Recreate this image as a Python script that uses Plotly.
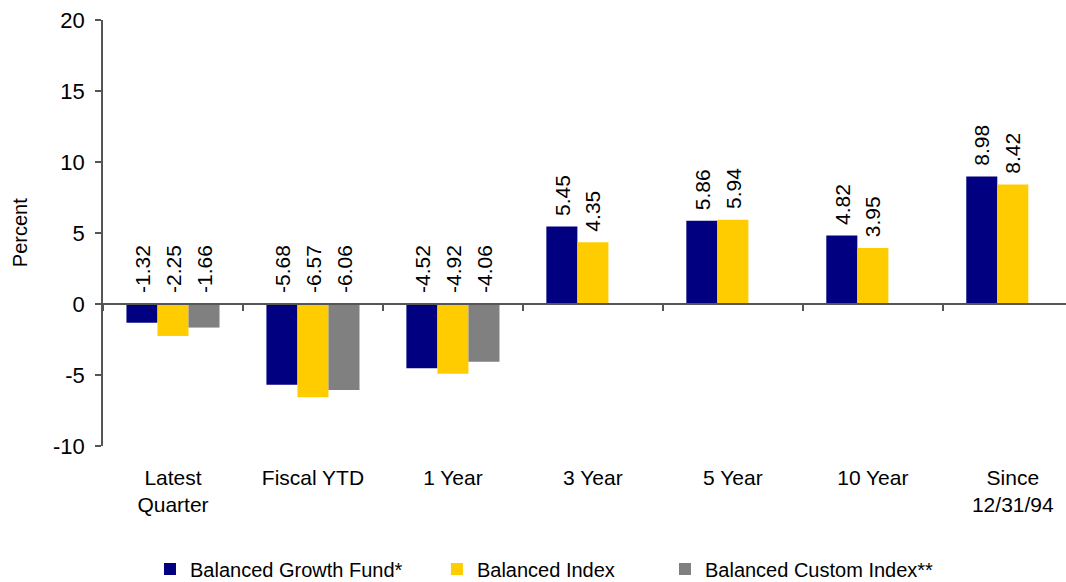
import plotly.graph_objects as go

categories = ["Latest<br>Quarter", "Fiscal YTD", "1 Year", "3 Year", "5 Year", "10 Year", "Since<br>12/31/94"]
fund = [-1.32, -5.68, -4.52, 5.45, 5.86, 4.82, 8.98]
balanced_index = [-2.25, -6.57, -4.92, 4.35, 5.94, 3.95, 8.42]
custom_index = [-1.66, -6.06, -4.06, None, None, None, None]
y_ticks = [-10, -5, 0, 5, 10, 15, 20]
y_tick_labels = ["-10", "-5", "0", "5", "10", "15", "20"]

series = [
    ("Balanced Growth Fund*", fund, "#000080"),
    ("Balanced Index", balanced_index, "#FFCC00"),
    ("Balanced Custom Index**", custom_index, "#808080"),
]

FONT = "Liberation Sans, Arial, sans-serif"
AXIS = "#555555"

fig = go.Figure()
legend_names = ["legend", "legend2", "legend3"]
for (name, vals, color), lg in zip(series, legend_names):
    fig.add_trace(go.Bar(x=categories, y=vals, name=name, marker_color=color,
                         marker_line_width=0, legend=lg))

# invisible helper so the zero-line axis (with boundary ticks) gets drawn
fig.add_trace(go.Scatter(x=categories, y=[0] * len(categories), xaxis="x2",
                         mode="markers", marker=dict(opacity=0), showlegend=False,
                         hoverinfo="skip"))

# rotated value labels, sitting above the bar (or above zero for negatives)
bar_px = 31
for i, (name, vals, color) in enumerate(series):
    for cat, v in zip(categories, vals):
        if v is None:
            continue
        fig.add_annotation(x=cat, y=max(v, 0), text=f"{v:.2f}", showarrow=False,
                           textangle=-90, xanchor="center", yanchor="bottom",
                           xshift=(i - 1) * bar_px, yshift=9,
                           font=dict(size=21, color="black", family=FONT))

fig.add_annotation(text="Percent", xref="paper", yref="paper", x=-0.086, y=0.5,
                   xanchor="center", yanchor="middle", textangle=-90, showarrow=False,
                   font=dict(size=20, color="black", family=FONT))

# legends placed against the whole figure so they don't push the bottom margin
leg = dict(orientation="h", xref="container", yref="container", xanchor="left",
           y=0.0223, yanchor="middle", font=dict(size=20), bgcolor="rgba(0,0,0,0)")
xr = [-0.5, 6.38]
fig.update_layout(
    width=1066, height=582,
    margin=dict(l=103, r=0, t=20, b=136),
    plot_bgcolor="white", paper_bgcolor="white",
    barmode="group", bargap=0.335, bargroupgap=0,
    font=dict(family=FONT, color="black"),
    xaxis=dict(range=xr, showline=False, ticks="", showgrid=False, automargin=False,
               tickfont=dict(size=21), ticklabelstandoff=17),
    xaxis2=dict(overlaying="x", anchor="free", position=10 / 30, range=xr,
                showline=True, linecolor=AXIS, linewidth=1.5,
                ticks="outside", ticklen=6, tickcolor=AXIS, tickwidth=1.5,
                tickson="boundaries", showticklabels=False, showgrid=False,
                zeroline=False, automargin=False),
    yaxis=dict(range=[-10, 20], tickmode="array", tickvals=y_ticks, ticktext=y_tick_labels,
               showline=True, linecolor=AXIS, linewidth=1.5,
               ticks="outside", ticklen=6, tickcolor=AXIS, tickwidth=1.5, showgrid=False,
               zeroline=False, tickfont=dict(size=22), automargin=False,
               ticklabelstandoff=6, ticklabeloverflow="allow"),
    legend=dict(leg, x=0.1407),
    legend2=dict(leg, x=0.4099),
    legend3=dict(leg, x=0.6238),
)

# drop the default page margin so the 1066x582 figure fills the window exactly
page_fix = (
    "document.body.style.margin='0';"
    "document.body.style.overflow='hidden';"
    "document.querySelectorAll('.plotly-graph-div').forEach(function(d){"
    "d.style.overflow='hidden';d.style.display='block';});"
)
fig.write_html("out.html", config={"displayModeBar": False}, post_script=page_fix)
